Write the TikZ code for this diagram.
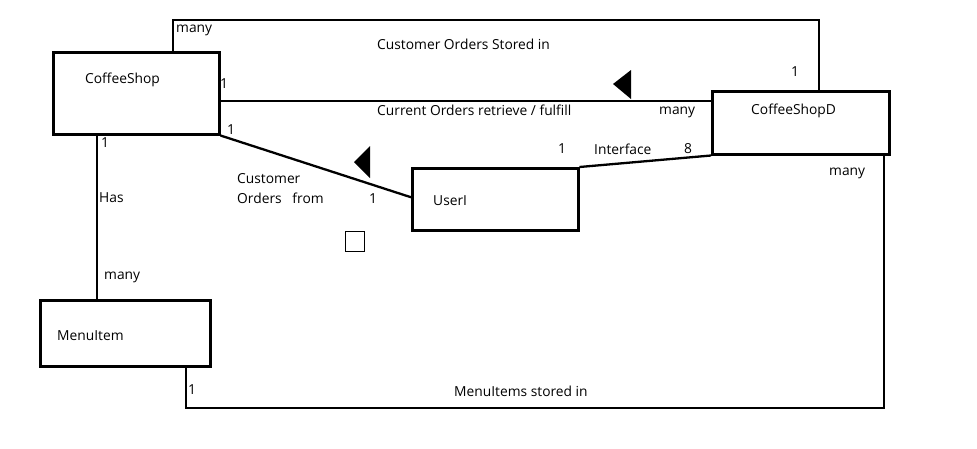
\documentclass[tikz,border=0pt]{standalone}
\usepackage{fontspec}
\setmainfont{Open Sans}
\begin{document}
\begin{tikzpicture}[x=1pt,y=-1pt,
  entity/.style={draw=black,line width=2.5pt,inner sep=0pt,anchor=north west},
  conn/.style={draw=black,line width=2.3pt},
  lbl/.style={inner sep=0pt,anchor=base west,font=\fontsize{13.8}{15}\selectfont},
  head/.style={fill=black}]
\useasboundingbox (0,0) rectangle (977,448);
% entities
\node[entity,minimum width=166pt,minimum height=82pt] (cs) at (52,51) {};
\node[entity,minimum width=177pt,minimum height=63pt] (csd) at (711,90) {};
\node[entity,minimum width=166pt,minimum height=62pt] (ui) at (411,167) {};
\node[entity,minimum width=170pt,minimum height=66pt] (mi) at (39,299) {};
% entity names
\node[lbl] (tcs) at (85,83) {CoffeeShop};
\node[lbl] (tcsd) at (751,114) {CoffeeShopD};
\node[lbl] (tui) at (433,205) {UserI};
\node[lbl] (tmi) at (57,340) {MenuItem};
% helper coordinates
\coordinate (tl) at (173,20);
\coordinate (tr) at (819,20);
\coordinate (bl) at (186,408);
\coordinate (br) at (884,408);
\coordinate (cy) at (0,101);
\coordinate (hx) at (97,0);
% connectors
\draw[conn] (cs.north -| tl) -- (tl) -- (tr) -- (csd.north -| tr);
\draw[conn] (cs.east |- cy) -- (csd.west |- cy);
\draw[conn] (cs.south east) -- ([yshift=2pt]ui.west);
\draw[conn] (ui.north east) -- (csd.south west);
\draw[conn] (cs.south -| hx) -- (mi.north -| hx);
\draw[conn] (mi.south -| bl) -- (bl) -- (br) -- (csd.south -| br);
% direction heads
\fill[head] (613,84) -- (631,70) -- (631,99) -- cycle;
\fill[head] (354,162) -- (370,146) -- (370,178) -- cycle;
% small square
\draw[line width=1pt] (345,231) rectangle (364,251);
% labels
\node[lbl] (l1) at (176,32) {many};
\node[lbl] (l2) at (377,49) {Customer Orders Stored in};
\node[lbl] (l3) at (791,76) {1};
\node[lbl] (l4) at (220,88) {1};
\node[lbl] (l5) at (377,115) {Current Orders retrieve / fulfill};
\node[lbl] (l6) at (659,114) {many};
\node[lbl] (l7) at (227,134) {1};
\node[lbl] (l8) at (101,147) {1};
\node[lbl] (l9) at (99,202) {Has};
\node[lbl] (l10) at (237,183) {Customer};
\node[lbl] (l11) at (237,203) {Orders\ \ \ from};
\node[lbl] (l12) at (369,203) {1};
\node[lbl] (l13) at (558,153) {1};
\node[lbl] (l14) at (594,154) {Interface};
\node[lbl] (l15) at (684,153) {8};
\node[lbl] (l16) at (829,175) {many};
\node[lbl] (l17) at (104,279) {many};
\node[lbl] (l18) at (188,394) {1};
\node[lbl] (l19) at (454,396) {MenuItems stored in};
\end{tikzpicture}
\end{document}
